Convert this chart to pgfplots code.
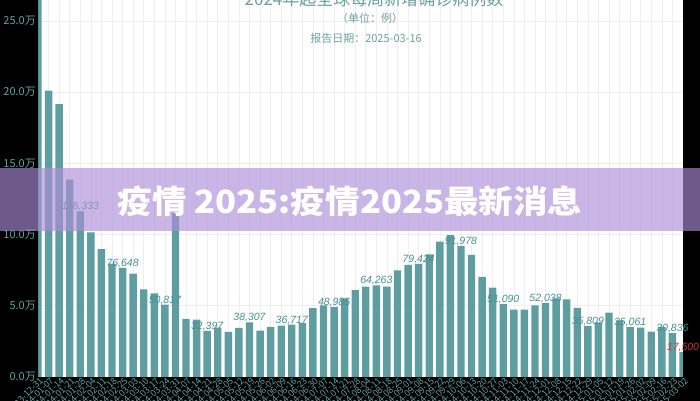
\documentclass[border=0pt]{standalone}
\usepackage{fontspec}
\setmainfont{Noto Sans CJK SC}
\newfontfamily\labfont{Liberation Sans}
\usepackage{pgfplots}
\usepackage{pgfplotstable}
\pgfplotsset{compat=1.18}

\definecolor{bgc}{RGB}{0,0,0}
\definecolor{barc}{RGB}{95,158,160}
\definecolor{labc}{RGB}{70,145,148}
\definecolor{tickc}{RGB}{100,160,160}
\definecolor{titlec}{RGB}{110,160,162}
\definecolor{redc}{RGB}{205,55,55}
\definecolor{gridc}{RGB}{238,238,238}
\definecolor{bannerc}{RGB}{173,141,216}

\pgfplotsset{
  frame/.style={
    at={(38pt,23pt)}, anchor=south west,
    scale only axis, width=645pt, height=377pt,
    xmin=0, xmax=61, ymin=0, ymax=264600,
    axis line style={draw=none},
    major tick length=0pt,
    xtick={0,...,61},
    ytick={0,50000,100000,150000,200000,250000},
  },
}
\tikzset{
  numlab/.style={font=\labfont\itshape\fontsize{10.5}{12}\selectfont,
        text=#1, anchor=base, yshift=1.5pt},
}

% weekly new cases, index 0 = 2023-12-31
\pgfplotstableread{
x y
0 300000
1 201000
2 191500
3 138500
4 116333
5 101500
6 89800
7 79600
8 76648
9 72600
10 61500
11 58700
12 50817
13 115000
14 40800
15 40300
16 32397
17 34600
18 31600
19 34400
20 38307
21 32500
22 35100
23 36000
24 36717
25 37900
26 48300
27 50200
28 48985
29 55100
30 61000
31 63400
32 64263
33 63400
34 74900
35 78700
36 79424
37 86000
38 95000
39 99500
40 91978
41 85700
42 70200
43 62700
44 51090
45 47300
46 47300
47 50200
48 52038
49 55100
50 54400
51 48500
52 35809
53 38400
54 45200
55 39800
56 35061
57 34600
58 31800
59 35100
60 30836
61 17500
}\weekly

\pgfplotstableread{
x y lab
4 116333 116,333
8 76648 76,648
12 50817 50,817
16 32397 32,397
20 38307 38,307
24 36717 36,717
28 48985 48,985
32 64263 64,263
36 79424 79,424
40 91978 91,978
44 51090 51,090
48 52038 52,038
52 35809 35,809
56 35061 35,061
60 30836 30,836
}\labels

\pgfplotstableread{
x y lab
61 17500 17,500
}\lastlab

\begin{document}
\begin{tikzpicture}
\useasboundingbox (0,0) rectangle (700pt,400pt);
\begin{scope}
\clip (0,0) rectangle (700pt,400pt);
% plot area: grid and bars
\begin{axis}[frame,
    axis background/.style={fill=white},
    xticklabels={}, yticklabels={},
    xmajorgrids, ymajorgrids,
    grid style={gridc, line width=0.6pt},
]
\addplot[ybar, bar width=7.4pt, bar shift=0pt, fill=barc, draw=none]
    table[x=x, y=y] {\weekly};
\end{axis}
% dark surround
\fill[bgc, even odd rule] (-2pt,-2pt) rectangle (702pt,402pt) (38pt,23pt) rectangle (683pt,402pt);
% tick labels and value labels
\begin{axis}[frame,
    xticklabels={2023-12-31,2024-01-07,2024-01-14,2024-01-21,2024-01-28,2024-02-04,2024-02-11,2024-02-18,2024-02-25,2024-03-03,2024-03-10,2024-03-17,2024-03-24,2024-03-31,2024-04-07,2024-04-14,2024-04-21,2024-04-28,2024-05-05,2024-05-12,2024-05-19,2024-05-26,2024-06-02,2024-06-09,2024-06-16,2024-06-23,2024-06-30,2024-07-07,2024-07-14,2024-07-21,2024-07-28,2024-08-04,2024-08-11,2024-08-18,2024-08-25,2024-09-01,2024-09-08,2024-09-15,2024-09-22,2024-09-29,2024-10-06,2024-10-13,2024-10-20,2024-10-27,2024-11-03,2024-11-10,2024-11-17,2024-11-24,2024-12-01,2024-12-08,2024-12-15,2024-12-22,2024-12-29,2025-01-05,2025-01-12,2025-01-19,2025-01-26,2025-02-02,2025-02-09,2025-02-16,2025-02-23,2025-03-02},
    xticklabel style={rotate=45, anchor=east, inner sep=0pt, xshift=1pt, yshift=-4pt,
        font=\fontsize{9}{10}\selectfont, text=tickc},
    yticklabels={0.0万,5.0万,10.0万,15.0万,20.0万,25.0万},
    yticklabel style={font=\fontsize{11}{13}\selectfont, text=tickc, inner sep=0pt, xshift=-2pt},
]
\addplot[draw=none, mark=none, nodes near coords, point meta=explicit symbolic,
    nodes near coords style={numlab=labc}]
    table[x=x, y=y, meta=lab] {\labels};
\addplot[draw=none, mark=none, nodes near coords, point meta=explicit symbolic,
    nodes near coords style={numlab=redc}]
    table[x=x, y=y, meta=lab] {\lastlab};
\end{axis}
\node[text=titlec, font=\fontsize{17}{19}\selectfont] at (374pt,401pt) {2024年起全球每周新增确诊病例数};
\node[text=titlec, font=\fontsize{11}{13}\selectfont] at (370pt,382pt) {（单位：例）};
\node[text=titlec, font=\fontsize{11}{13}\selectfont] at (366pt,362pt) {报告日期：2025-03-16};
\path[fill=bannerc, fill opacity=0.64] (0,169pt) rectangle (700pt,232pt);
\node[text=white, font=\bfseries\fontsize{32}{36}\selectfont] at (350pt,199pt) {\scalebox{1.08}[1]{疫情 2025:疫情2025最新消息}};
\end{scope}
\end{tikzpicture}
\end{document}
